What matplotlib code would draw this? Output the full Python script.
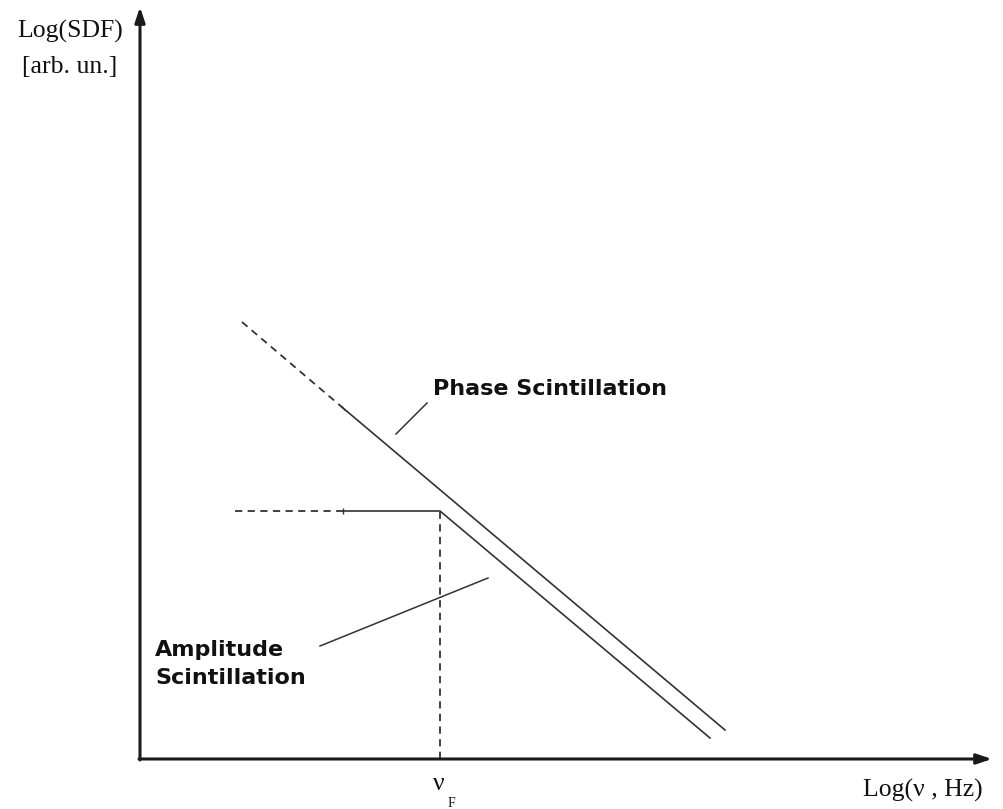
import matplotlib

matplotlib.use("Agg")
import matplotlib.pyplot as plt  # noqa: E402

# Schematic spectrum, in log units measured from the axis origin
phase_dashed_x = [1.02, 2.03]
phase_dashed_y = [4.37, 3.51]
phase_solid_x = [2.03, 5.85]
phase_solid_y = [3.51, 0.29]

amp_dashed_x = [0.95, 2.03]
amp_dashed_y = [2.48, 2.48]
amp_solid_x = [2.03, 3.00, 5.70]
amp_solid_y = [2.48, 2.48, 0.21]

fresnel_x = [3.00, 3.00]
fresnel_y = [0.0, 2.48]

phase_leader_x = [2.56, 2.87]
phase_leader_y = [3.25, 3.56]
amp_leader_x = [1.80, 3.48]
amp_leader_y = [1.13, 1.81]

x_axis_end = 8.52
y_axis_end = 7.52

LINE = "#333333"
AXIS = "#1a1a1a"

fig = plt.figure(figsize=(10.04, 8.09), dpi=100, facecolor="white")
ax = fig.add_axes([0, 0, 1, 1])
ax.set_xlim(-1.40, 8.64)
ax.set_ylim(-0.50, 7.59)
ax.axis("off")

# axes with arrowheads
arrow_kw = dict(arrowstyle="-|>,head_length=0.9,head_width=0.3", lw=2.2,
                color=AXIS, shrinkA=0, shrinkB=0)
ax.annotate("", xy=(0, y_axis_end), xytext=(0, -0.01), arrowprops=arrow_kw)
ax.annotate("", xy=(x_axis_end, 0), xytext=(-0.01, 0), arrowprops=arrow_kw)

# phase scintillation spectrum
ax.plot(phase_dashed_x, phase_dashed_y, color=LINE, lw=1.3, dashes=(4, 3))
ax.plot(phase_solid_x, phase_solid_y, color=LINE, lw=1.2)

# amplitude scintillation spectrum
ax.plot(amp_dashed_x, amp_dashed_y, color=LINE, lw=1.3, dashes=(4, 3))
ax.plot(amp_solid_x, amp_solid_y, color=LINE, lw=1.2)

# small ticks where dashed meets solid
ax.plot([amp_solid_x[0]], [amp_solid_y[0]], marker="|", ms=5, color=LINE, mew=1)
ax.plot([phase_solid_x[0]], [phase_solid_y[0]], marker=(2, 0, 45), ms=5,
        color=LINE, mew=1)

# Fresnel frequency marker
ax.plot(fresnel_x, fresnel_y, color=LINE, lw=1.3, dashes=(4, 3))

# leaders
ax.plot(phase_leader_x, phase_leader_y, color=LINE, lw=1.1)
ax.plot(amp_leader_x, amp_leader_y, color=LINE, lw=1.1)

bold = dict(family="DejaVu Sans", fontweight="bold", fontsize=16, color="#111111")
ax.text(2.93, 3.70, "Phase Scintillation", ha="left", va="center", **bold)
ax.text(0.15, 0.95, "Amplitude\nScintillation", ha="left", va="center",
        linespacing=1.45, **bold)

serif = dict(family="Liberation Serif", fontsize=18.5, color="#111111")
ax.text(-0.70, 7.21, "Log(SDF)", ha="center", va="baseline", **serif)
ax.text(-0.70, 6.86, "[arb. un.]", ha="center", va="baseline", **serif)
ax.text(7.23, -0.38, "Log(ν , Hz)", ha="left", va="baseline", **serif)
ax.text(2.99, -0.31, "ν", ha="center", va="baseline", **serif)
ax.text(3.11, -0.48, "F", ha="center", va="baseline",
        family="Liberation Serif", fontsize=10, color="#111111")

fig.savefig("out.png", dpi=100, facecolor="white")
